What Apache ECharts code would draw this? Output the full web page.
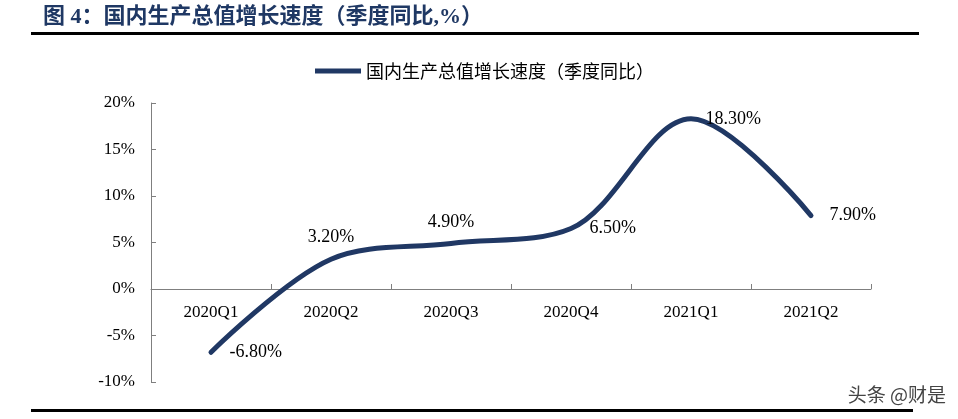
<!DOCTYPE html>
<html>
<head>
<meta charset="utf-8">
<script src="https://cdn.jsdelivr.net/npm/echarts@6/dist/echarts.min.js"></script>
<style>
html,body{margin:0;padding:0;background:#fff;}
#c{width:958px;height:419px;}
</style>
</head>
<body>
<div id="c"></div>
<script>
const categories = ['2020Q1','2020Q2','2020Q3','2020Q4','2021Q1','2021Q2'];
const gdpGrowth = [-6.8, 3.2, 4.9, 6.5, 18.3, 7.9];
const yTicks = { min: -10, max: 20, interval: 5 };
const seriesName = '国内生产总值增长速度（季度同比）';
const titleText = '图 4：国内生产总值增长速度（季度同比,%）';
const watermark = '头条 @财是';

const labelPos = ['right','top','top','right','right','right'];
const labelOffset = [[0,4],[0,0],[0,0],[0,4],[0,0],[0,0]];
const labelDist = [18,12,12,18,14,18];

const serif = '"Liberation Serif","Times New Roman","Noto Sans CJK SC",serif';
const cjk = '"Noto Sans CJK SC",sans-serif';

const gridTop = 103, gridBottom = 37, H = 419;
const plotH = H - gridTop - gridBottom;
const zeroFromBottom = plotH * (0 - yTicks.min) / (yTicks.max - yTicks.min);

const chart = echarts.init(document.getElementById('c'));
chart.setOption({
  animation: false,
  backgroundColor: '#fff',
  title: {
    text: titleText,
    left: 38, top: 1,
    textStyle: { fontFamily: '"Liberation Serif","Noto Sans CJK SC",serif', fontWeight: 'bold', fontSize: 22, color: '#1F3864' }
  },
  legend: {
    top: 57, left: 310,
    itemWidth: 46, itemHeight: 5,
    itemGap: 6,
    icon: 'rect',
    textStyle: { fontFamily: cjk, fontSize: 18, color: '#000' },
    data: [seriesName]
  },
  grid: { left: 151, right: 87, top: gridTop, bottom: gridBottom },
  xAxis: {
    type: 'category',
    data: categories,
    boundaryGap: true,
    offset: -zeroFromBottom,
    axisLine: { onZero: false, lineStyle: { color: '#7f7f7f', width: 1 } },
    axisTick: { show: true, inside: true, length: 5, lineStyle: { color: '#7f7f7f' } },
    axisLabel: { margin: 15, fontFamily: serif, fontSize: 17, color: '#000' }
  },
  yAxis: {
    type: 'value',
    min: yTicks.min, max: yTicks.max, interval: yTicks.interval,
    splitLine: { show: false },
    axisLine: { show: true, lineStyle: { color: '#7f7f7f', width: 1 } },
    axisTick: { show: true, inside: true, length: 5, lineStyle: { color: '#7f7f7f' } },
    axisLabel: { margin: 16, formatter: '{value}%', fontFamily: serif, fontSize: 17, color: '#000' }
  },
  series: [{
    name: seriesName,
    type: 'line',
    smooth: 0.34,
    symbol: 'circle',
    symbolSize: 1,
    showSymbol: true,
    lineStyle: { color: '#203864', width: 5, cap: 'round' },
    itemStyle: { color: '#203864' },
    label: {
      show: true,
      formatter: p => Number(p.value).toFixed(2) + '%',
      fontFamily: serif, fontSize: 18, color: '#000'
    },
    labelLayout: { hideOverlap: false },
    data: gdpGrowth.map((v, i) => ({
      value: v,
      label: { position: labelPos[i], offset: labelOffset[i], distance: labelDist[i] }
    }))
  }],
  graphic: [
    { type: 'rect', shape: { x: 31, y: 32, width: 888, height: 3 }, style: { fill: '#000' } },
    { type: 'rect', shape: { x: 31, y: 409, width: 882, height: 3 }, style: { fill: '#000' } },
    { type: 'text', right: 12, top: 385, z: 10,
      style: { text: watermark, fill: '#444', font: '19px "Noto Sans CJK SC", sans-serif' } }
  ]
});
</script>
</body>
</html>
